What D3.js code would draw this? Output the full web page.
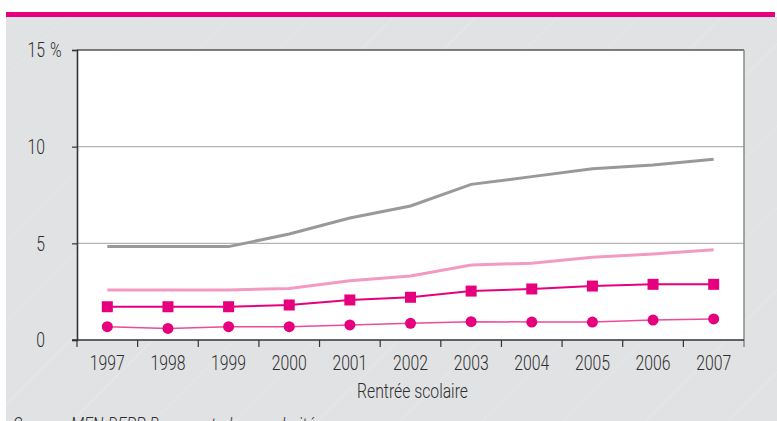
<!DOCTYPE html>
<html>
<head>
<meta charset="utf-8">
<script src="https://cdn.jsdelivr.net/npm/d3@7"></script>
<style>
  body { margin: 0; background: #fff; }
  svg { display: block; }
  text { font-family: Roboto, "DejaVu Sans Condensed", sans-serif; font-weight: 300; fill: #2e2e2e; }
</style>
</head>
<body>
<div id="chart"></div>
<script>
const years = ["1997", "1998", "1999", "2000", "2001", "2002", "2003", "2004", "2005", "2006", "2007"];
const grayValues = [4.83, 4.83, 4.83, 5.48, 6.31, 6.93, 8.05, 8.45, 8.86, 9.05, 9.35];
const lightPinkValues = [2.59, 2.59, 2.59, 2.67, 3.07, 3.31, 3.88, 3.97, 4.28, 4.45, 4.67];
const squareValues = [1.72, 1.72, 1.72, 1.81, 2.07, 2.21, 2.53, 2.64, 2.79, 2.88, 2.88];
const circleValues = [0.69, 0.60, 0.69, 0.69, 0.78, 0.86, 0.95, 0.93, 0.93, 1.03, 1.09];
const yTicks = [0, 5, 10, 15];
const xTitle = "Rentrée scolaire";
const source = "Source : MEN-DEPP, Base centrale – scolarité";

const width = 777, height = 421;
const margin = { top: 50, right: 33, bottom: 81, left: 77 };
const squeeze = 0.75;
const fontStyle = sel => sel
    .style("font-family", "Roboto, 'DejaVu Sans Condensed', sans-serif")
    .style("font-weight", 300)
    .style("font-size", "21px")
    .attr("fill", "#2b2b2b");

// narrow the glyphs to mimic the condensed face of the original
function condense(sel) {
    sel.each(function() {
        const w = this.getComputedTextLength();
        d3.select(this).attr("textLength", w * squeeze).attr("lengthAdjust", "spacingAndGlyphs");
    });
}

const svg = d3.select("#chart").append("svg")
    .attr("width", width)
    .attr("height", height);

// striped grey panel
const pat = svg.append("defs").append("pattern")
    .attr("id", "stripes")
    .attr("patternUnits", "userSpaceOnUse")
    .attr("width", 58).attr("height", 58)
    .attr("patternTransform", "rotate(45)");
pat.append("rect").attr("width", 58).attr("height", 58).attr("fill", "#e1e2e3");
pat.append("line").attr("x1", 0).attr("y1", 0).attr("x2", 0).attr("y2", 58)
    .attr("stroke", "#e9e9ea").attr("stroke-width", 1.2);

svg.append("rect").attr("x", 6).attr("y", 17).attr("width", width - 6).attr("height", height - 17)
    .attr("fill", "url(#stripes)");
svg.append("rect").attr("x", 6).attr("y", 12).attr("width", 769).attr("height", 5)
    .attr("fill", "#e6007e");

const x = d3.scaleBand().domain(years)
    .range([margin.left, width - margin.right]).padding(0);
const y = d3.scaleLinear().domain([0, 15])
    .range([height - margin.bottom, margin.top]);
const cx = d => x(d) + x.bandwidth() / 2;

svg.append("rect")
    .attr("x", margin.left).attr("y", margin.top)
    .attr("width", x.range()[1] - margin.left)
    .attr("height", y(0) - margin.top)
    .attr("fill", "#fff");

// grid
svg.append("g").selectAll("line").data([5, 10]).join("line")
    .attr("x1", margin.left).attr("x2", x.range()[1])
    .attr("y1", d => y(d)).attr("y2", d => y(d))
    .attr("stroke", "#b4b4b4").attr("stroke-width", 1.2);
svg.append("line")
    .attr("x1", margin.left).attr("x2", x.range()[1])
    .attr("y1", y(15)).attr("y2", y(15))
    .attr("stroke", "#555").attr("stroke-width", 1.3);
svg.append("line")
    .attr("x1", x.range()[1]).attr("x2", x.range()[1])
    .attr("y1", y(15)).attr("y2", y(0) + 7)
    .attr("stroke", "#8a8a8a").attr("stroke-width", 1.5);

// y axis
const yAxis = svg.append("g")
    .attr("transform", `translate(${margin.left},0)`)
    .call(d3.axisLeft(y).tickValues(yTicks).tickSize(5).tickPadding(27));
yAxis.select(".domain").attr("stroke", "#333").attr("stroke-width", 1.6);
yAxis.selectAll(".tick line").attr("stroke", "#333").attr("stroke-width", 1.2);
yAxis.selectAll(".tick text").call(fontStyle).call(condense);
svg.append("text")
    .attr("x", margin.left - 27).attr("y", y(15)).attr("dy", "0.32em")
    .call(fontStyle).text("%").call(condense);

// x axis
const xAxis = svg.append("g")
    .attr("transform", `translate(0,${y(0)})`)
    .call(d3.axisBottom(x).tickSize(0).tickPadding(15));
xAxis.select(".domain").remove();
xAxis.selectAll(".tick text").call(fontStyle).call(condense);
svg.append("line")
    .attr("x1", margin.left - 5).attr("x2", x.range()[1])
    .attr("y1", y(0)).attr("y2", y(0))
    .attr("stroke", "#333").attr("stroke-width", 1.6);
svg.append("g").selectAll("line").data(years).join("line")
    .attr("x1", d => x(d)).attr("x2", d => x(d))
    .attr("y1", y(0)).attr("y2", y(0) + 7)
    .attr("stroke", "#333").attr("stroke-width", 1.2);

svg.append("text")
    .attr("x", (margin.left + x.range()[1]) / 2 + 2).attr("y", 398)
    .attr("text-anchor", "middle")
    .call(fontStyle).text(xTitle).call(condense);
svg.append("text")
    .attr("x", 13).attr("y", 432)
    .call(fontStyle).style("font-style", "italic")
    .text(source).call(condense);

// lines
const line = vals => d3.line().x((d, i) => cx(years[i])).y(d => y(d))(vals);

svg.append("path").attr("d", line(grayValues))
    .attr("fill", "none").attr("stroke", "#999").attr("stroke-width", 3);
svg.append("path").attr("d", line(lightPinkValues))
    .attr("fill", "none").attr("stroke", "#f39ac3").attr("stroke-width", 3);
svg.append("path").attr("d", line(squareValues))
    .attr("fill", "none").attr("stroke", "#e6007e").attr("stroke-width", 2);
svg.append("path").attr("d", line(circleValues))
    .attr("fill", "none").attr("stroke", "#ec4b9b").attr("stroke-width", 1.5);

svg.append("g").selectAll("rect").data(squareValues).join("rect")
    .attr("x", (d, i) => cx(years[i]) - 5.5)
    .attr("y", d => y(d) - 5.5)
    .attr("width", 11).attr("height", 11)
    .attr("fill", "#e6007e");
svg.append("g").selectAll("circle").data(circleValues).join("circle")
    .attr("cx", (d, i) => cx(years[i]))
    .attr("cy", d => y(d))
    .attr("r", 5.5)
    .attr("fill", "#e6007e");
</script>
</body>
</html>
